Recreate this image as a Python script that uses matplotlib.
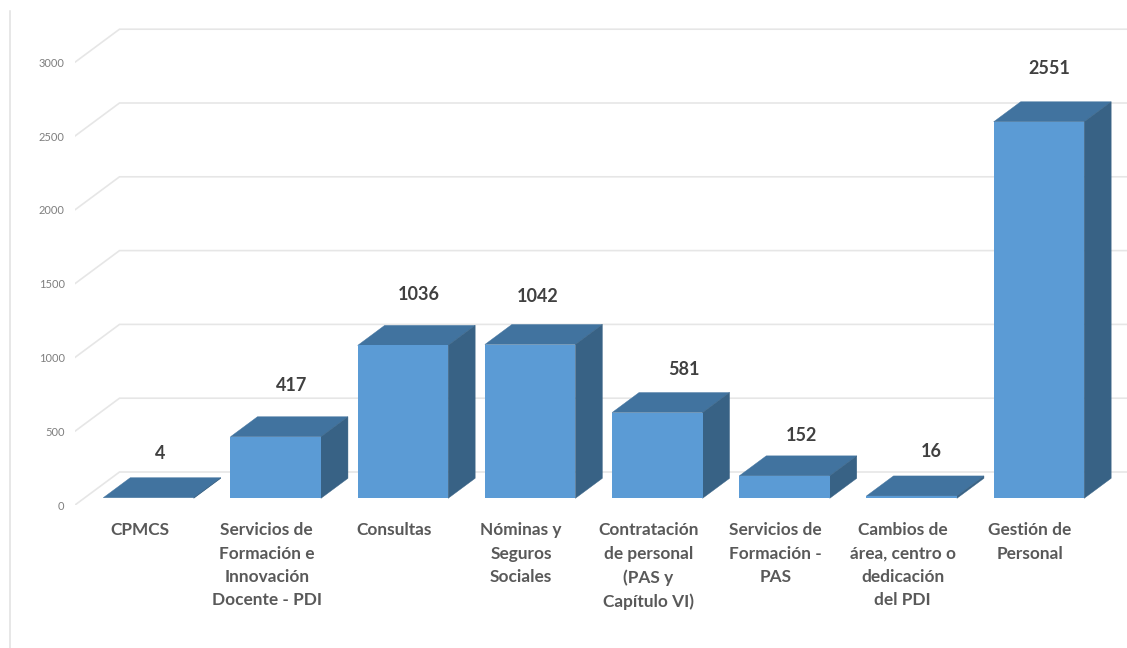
import matplotlib
matplotlib.use("Agg")
import matplotlib.pyplot as plt
from matplotlib.lines import Line2D
from matplotlib.patches import Polygon

# ---- data ----
categories = [
    "CPMCS",
    "Servicios de\nFormación e\nInnovación\nDocente - PDI",
    "Consultas",
    "Nóminas y\nSeguros\nSociales",
    "Contratación\nde personal\n(PAS y\nCapítulo VI)",
    "Servicios de\nFormación -\nPAS",
    "Cambios de\nárea, centro o\ndedicación\ndel PDI",
    "Gestión de\nPersonal",
]
values = [4, 417, 1036, 1042, 581, 152, 16, 2551]
y_ticks = [0, 500, 1000, 1500, 2000, 2500, 3000]

# ---- layout (pixels of the 1127x648 figure) ----
W, H = 1127, 648
AX_LEFT, AX_ZERO = 75, 505
CAT_STEP, CAT0 = 127.2, 139.5
PX_PER_UNIT = 73.8 / 500
WALL_DX, WALL_DY = 44.5, 33.0
BAR_W = 90.5 / CAT_STEP
D_FRONT, D_BACK = 6.7 / 33, 26.7 / 33
label_offsets = [(11.5, 44), (15.5, 51), (16, 50.5), (8, 48),
                 (26.5, 43.5), (16.5, 40), (19.5, 44), (10.5, 53.5)]

FRONT, TOP, SIDE = "#5B9BD5", "#41739F", "#386285"
GRID = "#E6E6E6"

plt.rcParams["font.family"] = ["Lato", "DejaVu Sans"]
fig = plt.figure(figsize=(W / 100, H / 100), dpi=100, facecolor="white")
ax = fig.add_axes([AX_LEFT / W, (H - AX_ZERO) / H, (W - AX_LEFT) / W, AX_ZERO / H])
ax.set_xlim((AX_LEFT - CAT0) / CAT_STEP, (W - CAT0) / CAT_STEP)
ax.set_ylim(0, AX_ZERO / PX_PER_UNIT)
for s in ax.spines.values():
    s.set_visible(False)

DX = WALL_DX / CAT_STEP
DY = WALL_DY / PX_PER_UNIT


def proj(x, v, d):
    return (x + d * DX, v + d * DY)


# walls / gridlines
x_left = ax.get_xlim()[0]
x_right = ax.get_xlim()[1]
for v in y_ticks:
    p0 = proj(x_left, v, 0)
    p1 = proj(x_left, v, 1)
    ax.plot([p0[0], p1[0], x_right], [p0[1], p1[1], p1[1]],
            color=GRID, lw=1.2, zorder=1, solid_joinstyle="miter")

# 3-D bars
for i, v in enumerate(values):
    l, r = i - BAR_W / 2, i + BAR_W / 2
    z = 3 + i * 0.01
    ax.add_patch(Polygon([proj(l, v, D_FRONT), proj(r, v, D_FRONT),
                          proj(r, v, D_BACK), proj(l, v, D_BACK)],
                         closed=True, fc=TOP, ec=TOP, lw=0.3, zorder=z))
    ax.add_patch(Polygon([proj(r, 0, D_FRONT), proj(r, v, D_FRONT),
                          proj(r, v, D_BACK), proj(r, 0, D_BACK)],
                         closed=True, fc=SIDE, ec=SIDE, lw=0.3, zorder=z))
    ax.add_patch(Polygon([proj(l, 0, D_FRONT), proj(r, 0, D_FRONT),
                          proj(r, v, D_FRONT), proj(l, v, D_FRONT)],
                         closed=True, fc=FRONT, ec="none", zorder=z))
    ax.annotate(str(v), xy=proj(i, v, D_FRONT), xycoords="data",
                xytext=label_offsets[i], textcoords="offset pixels",
                ha="center", va="center", fontsize=13, fontweight="bold",
                color="#404040", zorder=6)

ax.set_xticks(range(len(categories)))
ax.set_xticklabels(categories, fontsize=12.4, fontweight="bold", color="#595959",
                   ma="center", linespacing=1.56)
ax.tick_params(axis="x", length=0, pad=12.5)
ax.set_yticks(y_ticks)
ax.set_yticklabels([str(t) for t in y_ticks], fontsize=8, color="#7F7F7F")
ax.tick_params(axis="y", length=0, pad=7.5)

# thin vertical rule at the left of the picture
fig.add_artist(Line2D([10 / W, 10 / W], [0, 1 - 11 / H], color="#E0E0E0", lw=1.1))

fig.savefig("out.png", dpi=100, facecolor="white")
